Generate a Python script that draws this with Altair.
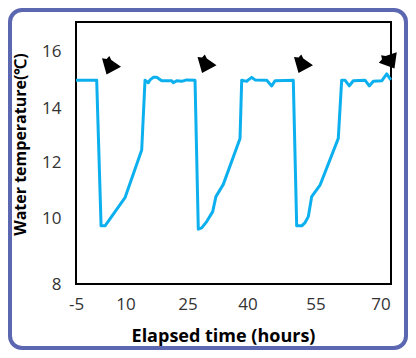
import altair as alt
import pandas as pd

# Water temperature trace
hours = [-5, 1.27, 2.6, 3.8, 9.85, 13.92, 14.72, 15.52, 15.93, 16.73, 17.55, 18.76,
         21.18, 21.57, 22.39, 23.6, 24.8, 26.88, 27.7, 28.55, 29.8, 31.3, 32.1, 33.95,
         38.13, 38.55, 39.8, 40.18, 40.93, 41.65, 44.24, 45.34, 46.07, 50.1, 50.85,
         51.96, 52.7, 53.41, 54.16, 56.04, 60.26, 61.04, 61.8, 62.8, 63.72, 66.42,
         67.42, 68.34, 70.28, 71.43, 72.35]
temp = [15.0, 15.0, 9.77, 9.77, 10.74, 12.47, 15.0, 14.91, 15.01, 15.10, 15.10, 14.98,
        14.98, 14.91, 14.98, 14.96, 15.01, 15.0, 9.67, 9.71, 9.9, 10.24, 10.78, 11.22,
        12.90, 15.0, 14.96, 15.01, 15.10, 15.01, 15.0, 14.80, 14.98, 15.0, 9.77,
        9.77, 9.87, 10.06, 10.78, 11.19, 12.90, 15.0, 15.0, 14.80, 14.98, 15.0,
        14.80, 14.96, 14.98, 15.22, 15.01]

# Arrow annotations
arrow_hours = [5.76, 29.88, 52.35, 72.19]
arrow_temp = [15.52, 15.57, 15.57, 15.74]
arrow_angle = [0, 0, 0, 306]

x_ticks = [-5, 10, 25, 40, 55, 70]
y_ticks = [8, 10, 12, 14, 16]

W, H = 315, 262

df = pd.DataFrame({"h": hours, "t": temp})
adf = pd.DataFrame({"h": arrow_hours, "t": arrow_temp, "a": arrow_angle})

xscale = alt.Scale(domain=[-5, 10, 25, 40, 55, 70, 72.4],
                   range=[0, 49.5, 111.5, 171.5, 239.5, 304.5, 315],
                   nice=False, zero=False)
yscale = alt.Scale(domain=[8, 10, 12, 14, 16, 17.04],
                   range=[262, 196.3, 140.7, 86.7, 29.7, 0],
                   nice=False, zero=False)

xaxis = alt.Axis(values=x_ticks, title="Elapsed time (hours)", grid=False, ticks=False,
                 tickSize=0, domain=False, labelPadding=12, labelFontSize=17,
                 labelFlush=False,
                 labelFont="Open Sans", labelColor="#333333", labelExpr="'' + datum.value",
                 titleFont="Open Sans", titleFontSize=18, titleFontWeight="bold",
                 titleColor="#000000", titleX=147, titleY=57, titleBaseline="alphabetic",
                 titleAlign="center")
yaxis = alt.Axis(values=y_ticks, title="Water temperature(℃)", grid=False, ticks=False,
                 tickSize=0, domain=False, labelPadding=15, labelFontSize=17,
                 labelFlush=False,
                 labelFont="Open Sans", labelColor="#333333",
                 titleFont="Open Sans", titleFontSize=16, titleFontWeight="bold",
                 titleColor="#000000", titleX=-56, titleY=122, titleAngle=270,
                 titleBaseline="middle", titleAlign="center")

line = alt.Chart(df).mark_line(color="#0DB0EE", strokeWidth=3, strokeJoin="round").encode(
    x=alt.X("h:Q", scale=xscale, axis=xaxis),
    y=alt.Y("t:Q", scale=yscale, axis=yaxis),
)

arrow_path = "M -1 -0.74 L -0.52 -0.67 L -0.23 -1 L -0.02 -0.57 L 1 0.14 L -0.52 0.95 Z"
arrows = alt.Chart(adf).mark_point(shape=arrow_path, filled=True, color="black",
                                   size=361, opacity=1).encode(
    x=alt.X("h:Q", scale=xscale),
    y=alt.Y("t:Q", scale=yscale),
    angle=alt.Angle("a:Q", scale=None),
)

border = alt.Chart(pd.DataFrame({"d": [0]})).mark_rect(
    fill="white", fillOpacity=0, stroke="#5B67B1", strokeWidth=4, cornerRadius=12
).encode(
    x=alt.value(-66), x2=alt.value(W + 15), y=alt.value(-12), y2=alt.value(H + 64)
)

chart = alt.layer(border, line, arrows).properties(
    width=W, height=H,
    autosize=alt.AutoSizeParams(type="none"),
    padding={"left": 68, "top": 14, "right": 17, "bottom": 66},
    background="white",
).configure_view(stroke="black", strokeWidth=2)

chart.save("out.html", embed_options={"renderer": "svg", "actions": False})
